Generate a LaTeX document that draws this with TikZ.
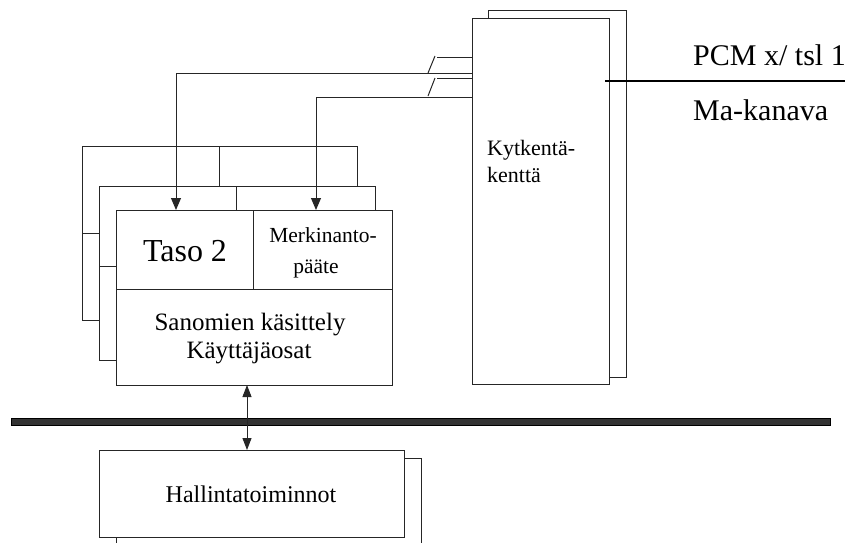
\documentclass[tikz,border=0pt]{standalone}
\usepackage{fontspec}
\setmainfont{Liberation Serif}
\usetikzlibrary{arrows.meta}
\begin{document}
\begin{tikzpicture}[x=1pt,y=-1pt,
  ln/.style={line width=1pt, draw=black!85},
  box/.style={ln, fill=white, inner sep=0pt, outer sep=0pt, anchor=north west},
  lbl/.style={inner sep=0pt, anchor=base},
  lblw/.style={inner sep=0pt, anchor=base west},
  tip/.style={-{Triangle[length=12pt,width=10pt]}},
  dtip/.style={{Triangle[length=12pt,width=9pt]}-{Triangle[length=12pt,width=9pt]}}]
\useasboundingbox (0,0) rectangle (856,542);

% switching field (Kytkentäkenttä)
\node[box, minimum width=138pt, minimum height=367pt] (kback) at (488,10) {};
\node[box, minimum width=137pt, minimum height=366pt] (kfront) at (472,18) {};
\node[lblw, font=\fontsize{22}{26}\selectfont] (kt1) at (487,155) {Kytkentä-};
\node[lblw, font=\fontsize{22}{26}\selectfont] (kt2) at (487,182) {kenttä};

% PCM line
\coordinate (pcmA) at (605,81);
\coordinate (pcmB) at (845,81);
\draw[line width=2pt] (pcmA) -- (pcmB);
\node[lblw, font=\fontsize{30}{36}\selectfont] (pcm) at (693,65) {PCM x/ tsl 1};
\node[lblw, font=\fontsize{30}{36}\selectfont] (ma) at (693,120) {Ma-kanava};

% signalling stack: back layer
\node[box, minimum width=275pt, minimum height=174pt] (mback) at (82,146) {};
\draw[ln] (219,146) -- (219,186);
\draw[ln] (82,233) -- (99,233);
% middle layer
\node[box, minimum width=276pt, minimum height=174pt] (mmid) at (99,186) {};
\draw[ln] (236,186) -- (236,210);
\draw[ln] (99,266) -- (116,266);
% front layer
\node[box, minimum width=276pt, minimum height=175pt] (mfront) at (116,210) {};
\draw[ln] (253,210) -- (253,289);
\draw[ln] (116,289) -- (392,289);

\node[lbl, font=\fontsize{32}{38}\selectfont] (taso) at (185,261) {Taso 2};
\node[lbl, font=\fontsize{21.5}{25}\selectfont] (mk1) at (323,242) {Merkinanto-};
\node[lbl, font=\fontsize{21.5}{25}\selectfont] (mk2) at (316,273) {pääte};
\node[lbl, font=\fontsize{25}{30}\selectfont] (san1) at (250,330) {Sanomien käsittely};
\node[lbl, font=\fontsize{25}{30}\selectfont] (san2) at (249,358) {Käyttäjäosat};

% connections from the switching field
\coordinate (t1) at (176,73);
\coordinate (t2) at (316,97);
\coordinate (s1) at (437,57);
\coordinate (s2) at (437,78);
\draw[ln, tip] (kfront.west |- t1) -- (t1) -- (mfront.north -| t1);
\draw[ln, tip] (kfront.west |- t2) -- (t2) -- (mfront.north -| t2);
\draw[ln] (s1) -- (kfront.west |- s1);
\draw[ln] (s2) -- (kfront.west |- s2);
\draw[ln] (428,73) -- (435,56);
\draw[ln] (428,96) -- (435,78);

% bus bar
\node[box, fill=black!80, draw=black, minimum width=819pt, minimum height=7pt] (bar) at (11,418) {};

% management
\node[box, minimum width=305pt, minimum height=100pt] (hback) at (116,458) {};
\node[box, minimum width=305pt, minimum height=87pt] (hfront) at (99,450) {};
\node[lbl, font=\fontsize{24}{28}\selectfont] (hal) at (251,502) {Hallintatoiminnot};

\coordinate (ax) at (247,0);
\draw[ln, dtip] (mfront.south -| ax) -- (hfront.north -| ax);
\end{tikzpicture}
\end{document}
